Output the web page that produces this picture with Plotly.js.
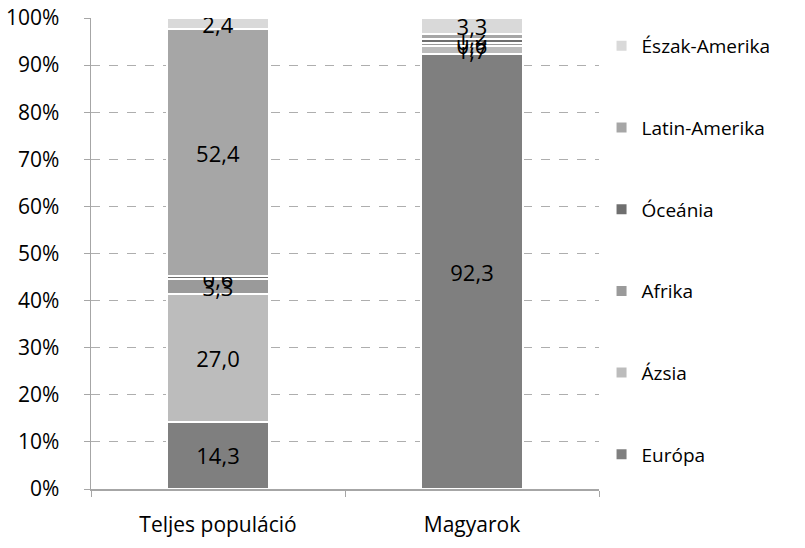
<!DOCTYPE html>
<html>
<head>
<meta charset="utf-8">
<script src="https://cdn.plot.ly/plotly-3.0.1.min.js"></script>
<style>body{margin:0;background:#fff}#chart{width:805px;height:548px}</style>
</head>
<body>
<div id="chart"></div>
<script>
const categories = ["Teljes populáció", "Magyarok"];
const seriesNames = ["Európa", "Ázsia", "Afrika", "Óceánia", "Latin-Amerika", "Észak-Amerika"];
const europa = [14.3, 92.3];
const azsia = [27.0, 1.7];
const afrika = [3.3, 0.6];
const oceania = [0.6, 0.9];
const latinAmerika = [52.4, 1.2];
const eszakAmerika = [2.4, 3.3];
const yTicks = [0, 10, 20, 30, 40, 50, 60, 70, 80, 90, 100];
const yTickLabels = ["0%", "10%", "20%", "30%", "40%", "50%", "60%", "70%", "80%", "90%", "100%"];

const seriesValues = [europa, azsia, afrika, oceania, latinAmerika, eszakAmerika];
const colors = ["#7f7f7f", "#bcbcbc", "#9a9a9a", "#6f6f6f", "#a6a6a6", "#d9d9d9"];
const fmt = v => v.toFixed(1).replace('.', ',');
const FONT = 'Open Sans, Noto Sans, sans-serif';

const traces = seriesNames.map((name, i) => ({
  type: 'bar',
  name: name,
  x: categories,
  y: seriesValues[i],
  text: seriesValues[i].map(fmt),
  textposition: 'inside',
  insidetextanchor: 'middle',
  textangle: 0,
  textfont: {family: FONT, size: 22, color: '#000'},
  hoverinfo: 'none',
  legendgroup: 'g' + i,
  legendrank: 100 - i,
  marker: {color: colors[i], line: {color: '#ffffff', width: 2}}
}));

const layout = {
  width: 805, height: 548,
  margin: {l: 91, r: 206, t: 18, b: 59, autoexpand: false},
  barmode: 'stack',
  bargap: 0.6,
  paper_bgcolor: '#fff', plot_bgcolor: '#fff',
  font: {family: FONT, size: 20, color: '#000'},
  uniformtext: {mode: 'show', minsize: 22},
  showlegend: true,
  legend: {
    x: 1.005, xanchor: 'left', y: 0.981, yanchor: 'top',
    traceorder: 'grouped', tracegroupgap: 54,
    font: {family: FONT, size: 19, color: '#000'}, itemwidth: 30,
    maxheight: 548
  },
  xaxis: {
    type: 'category', showgrid: false, showline: true, linecolor: '#a6a6a6', linewidth: 1.5,
    ticks: 'outside', tickson: 'boundaries', ticklen: 6, tickcolor: '#a6a6a6',
    ticklabelstandoff: 16, tickfont: {family: FONT, size: 21}
  },
  yaxis: {
    range: [0, 100], tickvals: yTicks, ticktext: yTickLabels,
    showline: true, linecolor: '#a6a6a6', linewidth: 1.5,
    ticks: 'outside', ticklen: 6, tickcolor: '#a6a6a6',
    showgrid: true, gridcolor: '#9a9a9a', griddash: 'dash', gridwidth: 0.8,
    zeroline: false, ticklabelstandoff: 20, tickfont: {family: FONT, size: 21}
  }
};

Plotly.newPlot('chart', traces, layout, {displayModeBar: false, staticPlot: true});
</script>
</body>
</html>
